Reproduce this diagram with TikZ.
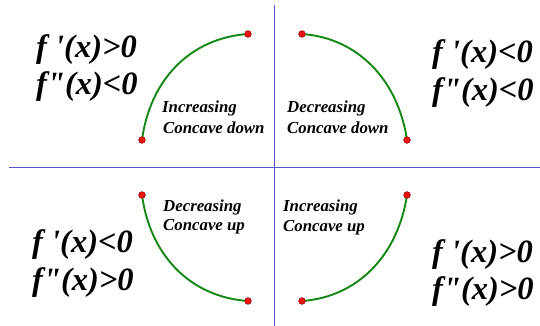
\documentclass[tikz,border=0pt]{standalone}
\usepackage{fontspec}
\setmainfont{Liberation Serif}[Ligatures=TeXOff,BoldItalicFont={Liberation Serif Bold Italic}]
\definecolor{axisblue}{RGB}{85,85,200}
\definecolor{curvegreen}{RGB}{20,135,20}
\definecolor{dotred}{RGB}{235,20,20}
\definecolor{dotedge}{RGB}{150,0,0}
\begin{document}
\begin{tikzpicture}[x=1pt,y=-1pt,
  axisline/.style={draw=axisblue,line width=1.1pt},
  curveline/.style={draw=curvegreen,line width=1.9pt},
  enddot/.style={circle,fill=dotred,draw=dotedge,line width=0.4pt,inner sep=0pt,minimum size=6.5pt},
  biglabel/.style={anchor=base west,inner sep=0pt,font=\normalfont\bfseries\itshape\fontsize{32.5}{37}\selectfont},
  smalllabel/.style={anchor=base west,inner sep=0pt,font=\normalfont\bfseries\itshape\fontsize{16.8}{20}\selectfont}]
\useasboundingbox (0,0) rectangle (540,326);
% axes
\coordinate (vt) at (274.5,5);
\coordinate (vb) at (274.5,326);
\coordinate (hl) at (9,167.5);
\coordinate (hr) at (540,167.5);
\draw[axisline] (vt) -- (vb);
\draw[axisline] (hl) -- (hr);
% endpoints
\node[enddot] (a1) at (142,140) {};
\node[enddot] (b1) at (248,34) {};
\node[enddot] (a2) at (302,34) {};
\node[enddot] (b2) at (407,140) {};
\node[enddot] (a3) at (142,195) {};
\node[enddot] (b3) at (248,301) {};
\node[enddot] (a4) at (302,301) {};
\node[enddot] (b4) at (407,195) {};
% curves
\draw[curveline] (a1.center) .. controls (150,80) and (190,38) .. (b1.center);
\draw[curveline] (a2.center) .. controls (358,38) and (398,80) .. (b2.center);
\draw[curveline] (a3.center) .. controls (150,255) and (190,297) .. (b3.center);
\draw[curveline] (a4.center) .. controls (358,297) and (398,255) .. (b4.center);
\node[enddot] at (a1) {};
\node[enddot] at (b1) {};
\node[enddot] at (a2) {};
\node[enddot] at (b2) {};
\node[enddot] at (a3) {};
\node[enddot] at (b3) {};
\node[enddot] at (a4) {};
\node[enddot] at (b4) {};
% big labels
\node[biglabel] (q1a) at (36,58) {f '(x)>0};
\node[biglabel] (q1b) at (36,95) {f"(x)<0};
\node[biglabel] (q2a) at (432,63) {f '(x)<0};
\node[biglabel] (q2b) at (432,100) {f"(x)<0};
\node[biglabel] (q3a) at (32,252) {f '(x)<0};
\node[biglabel] (q3b) at (32,290) {f"(x)>0};
\node[biglabel] (q4a) at (432,262) {f '(x)>0};
\node[biglabel] (q4b) at (432,299) {f"(x)>0};
% small labels
\node[smalllabel] (s1a) at (162,113) {Increasing};
\node[smalllabel] (s1b) at (163,133) {Concave down};
\node[smalllabel] (s2a) at (287,113) {Decreasing};
\node[smalllabel] (s2b) at (287,133) {Concave down};
\node[smalllabel] (s3a) at (163,211) {Decreasing};
\node[smalllabel] (s3b) at (163,230) {Concave up};
\node[smalllabel] (s4a) at (283,211) {Increasing};
\node[smalllabel] (s4b) at (283,231) {Concave up};
\end{tikzpicture}
\end{document}
